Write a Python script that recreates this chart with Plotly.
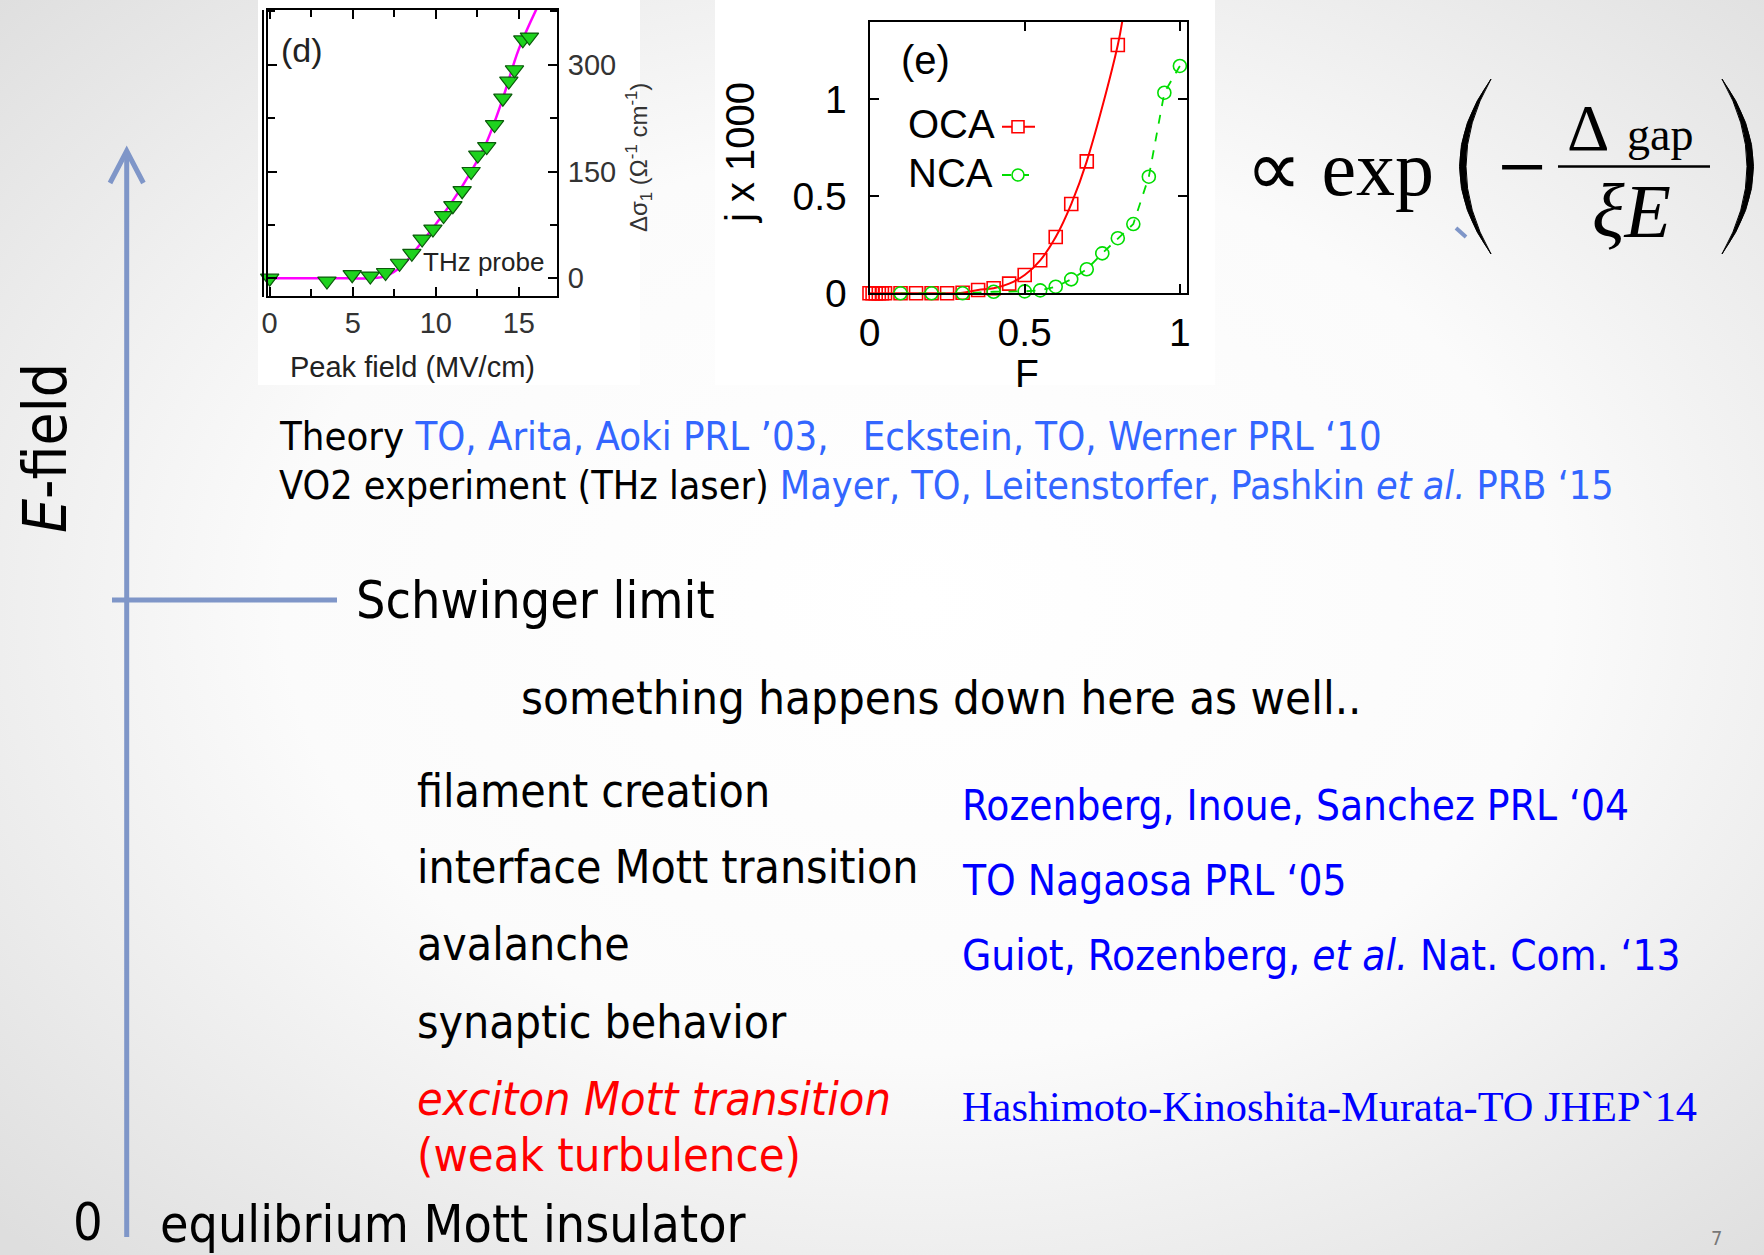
import urllib.parse
import plotly.graph_objects as go

W, H = 1764, 1255

# ---------------- data: panel (d) ----------------
d_field = [0, 3.45, 4.97, 6.06, 6.98, 7.82, 8.56, 9.18, 9.83, 10.47, 11.03,
           11.59, 12.13, 12.53, 13.07, 13.54, 14.04, 14.4, 14.74, 15.24, 15.64]
d_sigma = [0, -4, 5, 3, 8, 21, 35, 55, 69, 88, 102,
           123, 150, 173, 185, 216, 253, 277, 293, 335, 339]
d_fit_field = [0, 2, 4, 6, 7, 8, 9, 10, 11, 12, 13, 14, 15, 16.2]
d_fit_sigma = [0, 0, 0, 0, 3, 18, 46, 76, 108, 145, 188, 250, 322, 385]
d_xticks = [0, 5, 10, 15]
d_yticks = [0, 150, 300]

# ---------------- data: panel (e) ----------------
oca_F = [0, 0.01, 0.02, 0.03, 0.04, 0.05, 0.1, 0.15, 0.2, 0.25, 0.3, 0.35,
         0.4, 0.45, 0.5, 0.55, 0.6, 0.65, 0.7, 0.8]
oca_j = [0, 0, 0, 0, 0, 0, 0, 0, 0, 0, 0.003, 0.017,
         0.026, 0.05, 0.094, 0.17, 0.29, 0.46, 0.68, 1.28]
oca_curve_end_F = [0.82]
oca_curve_end_j = [1.46]
nca_F = [0.1, 0.2, 0.3, 0.4, 0.5, 0.55, 0.6, 0.65, 0.7, 0.75, 0.8, 0.85, 0.9, 0.95, 1.0]
nca_j = [0, 0, 0, 0.008, 0.01, 0.015, 0.034, 0.072, 0.124, 0.206, 0.284, 0.357,
         0.601, 1.034, 1.172]
e_ticks = [0, 0.5, 1]
e_ticktext = ["0", "0.5", "1"]

# ---------------- slide text ----------------
items = ["filament creation", "interface Mott transition", "avalanche", "synaptic behavior"]
refs = ["Rozenberg, Inoue, Sanchez PRL \u201804",
        "TO Nagaosa PRL \u201805",
        "Guiot, Rozenberg, <i>et al.</i> Nat. Com. \u201813"]

SANS = "DejaVu Sans Condensed, DejaVu Sans, sans-serif"
ARIAL = "Liberation Sans, Arial, sans-serif"
SERIF = "Liberation Serif, Times New Roman, serif"
ARROW = "#7F96C8"


def px(x):
    return x / W


def py(y):
    return 1 - y / H


fig = go.Figure()

# panel (d)
fig.add_trace(go.Scatter(x=d_fit_field, y=d_fit_sigma, mode="lines", line=dict(color="#FF00FF", width=2.5, shape="spline"),
                         xaxis="x", yaxis="y", showlegend=False, hoverinfo="skip"))
fig.add_trace(go.Scatter(x=d_field, y=d_sigma, mode="markers", cliponaxis=False,
                         marker=dict(symbol="triangle-down", size=16, color="#1ED21E", line=dict(color="#0B5A0B", width=1.2)),
                         xaxis="x", yaxis="y", showlegend=False))

# panel (e)
fig.add_trace(go.Scatter(x=oca_F + oca_curve_end_F, y=oca_j + oca_curve_end_j, mode="lines",
                         line=dict(color="#FF0000", width=2, shape="spline"),
                         xaxis="x2", yaxis="y2", showlegend=False, hoverinfo="skip"))
fig.add_trace(go.Scatter(x=oca_F, y=oca_j, mode="markers", cliponaxis=False,
                         marker=dict(symbol="square-open", size=13, color="#FF0000", line=dict(width=1.6)),
                         xaxis="x2", yaxis="y2", showlegend=False))
fig.add_trace(go.Scatter(x=nca_F, y=nca_j, mode="lines+markers", cliponaxis=False,
                         line=dict(color="#00DD00", width=1.8, dash="dash"),
                         marker=dict(symbol="circle-open", size=13, color="#00DD00", line=dict(width=1.6)),
                         xaxis="x2", yaxis="y2", showlegend=False))

axis_common = dict(showline=True, linecolor="black", linewidth=2, mirror="ticks", ticks="inside",
                   tickcolor="black", tickwidth=2, ticklen=9, showgrid=False, zeroline=False, automargin=False)

layout = dict(
    width=W, height=H, margin=dict(l=0, r=0, t=0, b=0, pad=0, autoexpand=False), autosize=False,
    paper_bgcolor="white", plot_bgcolor="white",
    xaxis=dict(domain=[px(268), px(557)], range=[-0.1, 17.3], tickvals=d_xticks,
               tickfont=dict(family=ARIAL, size=29, color="#333"), ticklabelstandoff=0,
               minor=dict(dtick=2.5, tick0=0, ticks="inside", ticklen=7, tickwidth=2, tickcolor="black"),
               anchor="y", **axis_common),
    yaxis=dict(domain=[py(296), py(10)], range=[-25, 377], tickvals=d_yticks, side="right",
               tickfont=dict(family=ARIAL, size=29, color="#333"), ticklabelstandoff=3,
               minor=dict(dtick=75, tick0=0, ticks="inside", ticklen=7, tickwidth=2, tickcolor="black"),
               anchor="x", **axis_common),
    xaxis2=dict(domain=[px(869.5), px(1186.7)], range=[0, 1.022], tickvals=e_ticks, ticktext=e_ticktext,
                tickfont=dict(family=ARIAL, size=39, color="black"), ticklabelstandoff=4,
                anchor="y2", **axis_common),
    yaxis2=dict(domain=[py(293.3), py(21.7)], range=[0, 1.4], tickvals=e_ticks, ticktext=e_ticktext,
                tickfont=dict(family=ARIAL, size=39, color="black"), ticklabelstandoff=13,
                anchor="x2", **axis_common),
)
fig.update_layout(**layout)

# background gradient
svg = ("<svg xmlns='http://www.w3.org/2000/svg' width='1764' height='1255' viewBox='0 0 1764 1255' preserveAspectRatio='none'>"
       "<defs><radialGradient id='g' cx='52%' cy='48%' r='72%'>"
       "<stop offset='0' stop-color='#ffffff'/><stop offset='0.5' stop-color='#fbfbfb'/>"
       "<stop offset='1' stop-color='#dedede'/></radialGradient></defs>"
       "<rect width='1764' height='1255' fill='url(#g)'/></svg>")
fig.add_layout_image(dict(source="data:image/svg+xml;charset=utf-8," + urllib.parse.quote(svg),
                          xref="paper", yref="paper", x=0, y=1, sizex=1, sizey=1,
                          sizing="stretch", layer="below", xanchor="left", yanchor="top"))

shapes = []
# white panels behind the two inset plots
shapes.append(dict(type="rect", xref="paper", yref="paper", x0=px(258), x1=px(640), y0=py(385), y1=py(0),
                   fillcolor="white", line=dict(width=0), layer="below"))
shapes.append(dict(type="rect", xref="paper", yref="paper", x0=px(715), x1=px(1215), y0=py(385), y1=py(0),
                   fillcolor="white", line=dict(width=0), layer="below"))
# extra left border line of panel (d)
shapes.append(dict(type="line", xref="paper", yref="paper", x0=px(263), x1=px(263), y0=py(297), y1=py(10),
                   line=dict(color="black", width=2)))
# E-field arrow
shapes.append(dict(type="line", xref="paper", yref="paper", x0=px(126.7), x1=px(126.7), y0=py(1237), y1=py(153),
                   line=dict(color=ARROW, width=5)))
shapes.append(dict(type="path", xref="paper", yref="paper",
                   path=f"M {px(110)},{py(183)} L {px(126.7)},{py(151)} L {px(143.4)},{py(183)}",
                   line=dict(color=ARROW, width=5)))
# Schwinger limit tick
shapes.append(dict(type="line", xref="paper", yref="paper", x0=px(112), x1=px(337), y0=py(600), y1=py(600),
                   line=dict(color=ARROW, width=5)))
# formula: fraction bar
shapes.append(dict(type="line", xref="paper", yref="paper", x0=px(1558), x1=px(1710), y0=py(166.5), y1=py(166.5),
                   line=dict(color="black", width=2.5)))


def paren(xe, xo, xi):
    return (f"M {px(xe)},{py(79)} Q {px(xo)},{py(166.5)} {px(xe)},{py(254)} "
            f"Q {px(xi)},{py(166.5)} {px(xe)},{py(79)} Z")


shapes.append(dict(type="path", xref="paper", yref="paper", path=paren(1491, 1428, 1441),
                   fillcolor="black", line=dict(color="black", width=1)))
shapes.append(dict(type="path", xref="paper", yref="paper", path=paren(1722, 1785, 1772),
                   fillcolor="black", line=dict(color="black", width=1)))
# small blue stroke artefact near left parenthesis
shapes.append(dict(type="line", xref="paper", yref="paper", x0=px(1456), x1=px(1466), y0=py(228), y1=py(237),
                   line=dict(color=ARROW, width=4)))
# legend samples of panel (e)
shapes.append(dict(type="line", xref="paper", yref="paper", x0=px(1002), x1=px(1035), y0=py(126.7), y1=py(126.7),
                   line=dict(color="#FF0000", width=2)))
shapes.append(dict(type="rect", xref="paper", yref="paper", x0=px(1012), x1=px(1024), y0=py(132.7), y1=py(120.7),
                   fillcolor="white", line=dict(color="#FF0000", width=1.6)))
shapes.append(dict(type="line", xref="paper", yref="paper", x0=px(1002), x1=px(1035), y0=py(175), y1=py(175),
                   line=dict(color="#00DD00", width=1.8, dash="dash")))
shapes.append(dict(type="circle", xref="paper", yref="paper", x0=px(1012), x1=px(1024), y0=py(181), y1=py(169),
                   fillcolor="white", line=dict(color="#00DD00", width=1.6)))
fig.update_layout(shapes=shapes)

anns = []


def ann(text, x, y, size, color="black", family=SANS, xanchor="left", textangle=0):
    anns.append(dict(text=text, x=px(x), y=py(y), xref="paper", yref="paper", showarrow=False,
                     xanchor=xanchor, yanchor="middle", textangle=textangle,
                     font=dict(family=family, size=size, color=color)))


# panel (d) labels
ann("(d)", 301.7, 50, 34, "#222", ARIAL, "center")
ann("THz probe", 483, 262, 26, "#222", ARIAL, "center")
ann("Peak field (MV/cm)", 412, 367, 29, "#222", ARIAL, "center")
ann("\u0394\u03c3<sub>1</sub> (\u03a9<sup>-1</sup> cm<sup>-1</sup>)", 639, 158, 24, "#333", ARIAL, "center", -90)
# panel (e) labels
ann("(e)", 925, 60, 40, "black", ARIAL, "center")
ann("OCA", 906, 124, 40, "black", ARIAL, "left")
ann("NCA", 906, 173, 40, "black", ARIAL, "left")
ann("j x 1000", 740, 153, 40, "black", ARIAL, "center", -90)
ann("F", 1027, 373, 39, "black", ARIAL, "center")

# formula
ann("\u221d exp", 1244, 169, 78, "black", SERIF, "left")
ann("\u2212", 1522, 167, 86, "black", SERIF, "center")
ann("\u0394", 1588, 128, 66, "black", SERIF, "center")
ann("gap", 1660, 134, 46, "black", SERIF, "center")
ann("<i>\u03beE</i>", 1631, 211, 76, "black", SERIF, "center")

# slide text
ann("<i>E</i>-field", 45, 448, 60, "black", SANS, "center", -90)
ann("Theory <span style='color:#3366FF'>TO, Arita, Aoki PRL \u201903,   Eckstein, TO, Werner PRL \u201810</span>",
    277, 436, 39.7)
ann("VO2 experiment (THz laser) <span style='color:#3366FF'>Mayer, TO, Leitenstorfer, Pashkin <i>et al.</i> PRB \u201815</span>",
    277, 485, 39.2)
ann("Schwinger limit", 354, 600, 51.6)
ann("something happens down here as well..", 519, 697, 47)
for txt, yy in zip(items, [791, 867, 944, 1021.5]):
    ann(txt, 415, yy, 46)
for txt, yy in zip(refs, [805.5, 881, 955]):
    ann(txt, 960, yy, 42, "#0000FF")
ann("Hashimoto-Kinoshita-Murata-TO JHEP`14", 960, 1106, 42.4, "#0000FF", SERIF)
ann("<i>exciton Mott transition</i>", 415, 1099, 46.5, "#FF0000")
ann("(weak turbulence)", 415, 1155, 46.8, "#FF0000")
ann("0", 88, 1222, 52, "black", SANS, "center")
ann("equlibrium Mott insulator", 158, 1224, 51.5)
ann("7", 1716, 1238, 20, "#777777", SANS, "center")
fig.update_layout(annotations=anns)

fig.write_html("out.html", config={"displayModeBar": False, "responsive": False},
               post_script="document.body.style.margin='0';document.body.style.padding='0';"
                           "document.body.style.overflow='hidden';")
